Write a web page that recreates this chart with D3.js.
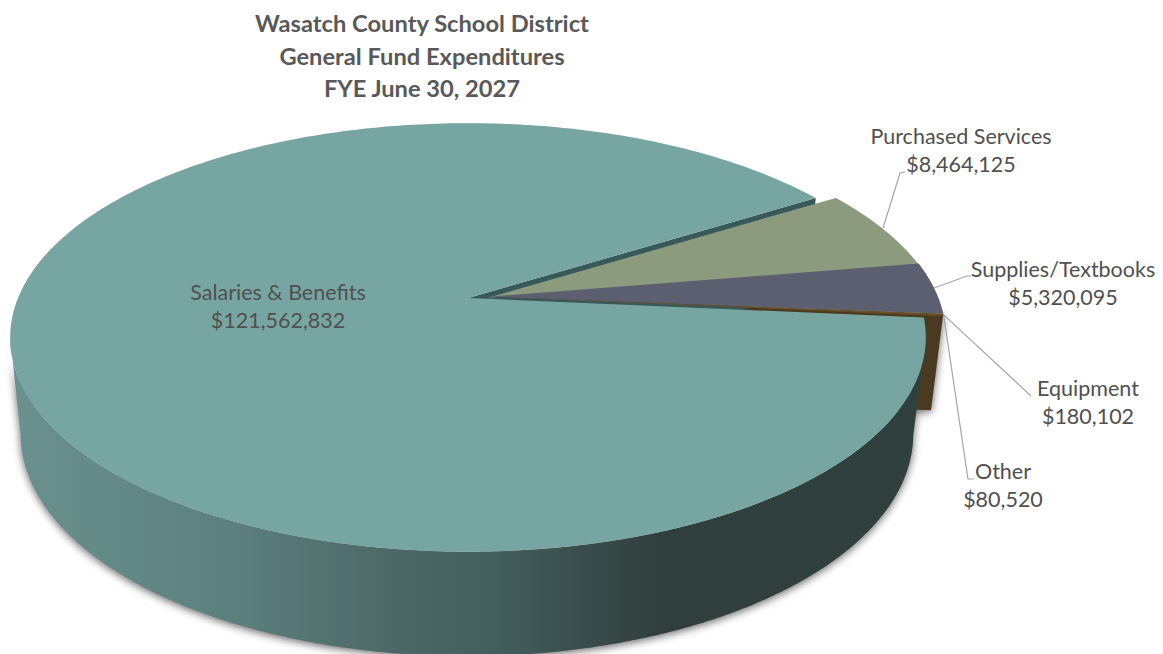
<!DOCTYPE html>
<html><head><meta charset="utf-8">
<script src="https://cdn.jsdelivr.net/npm/d3@7"></script>
<style>html,body{margin:0;background:#fff}svg{display:block}text{font-family:Lato,"Open Sans",sans-serif;fill:#505050}</style>
</head><body><svg id="c" width="1163" height="654"></svg>
<script>
const titleLines = ["Wasatch County School District","General Fund Expenditures","FYE June 30, 2027"];
const categories = ["Salaries & Benefits","Purchased Services","Supplies/Textbooks","Equipment","Other"];
const amounts = [121562832,8464125,5320095,180102,80520];
const amountLabels = ["$121,562,832","$8,464,125","$5,320,095","$180,102","$80,520"];
const colors = ["#77a5a2","#8c9b7e","#5c5f70","#6a5128","#6a5128"];

const rad = Math.PI/180;
const topP = {x0:468,y0:298,A:207,B:450,w:0.184};
const topX = {...topP,x0:488,y0:296.8};      // detached wedges
const topG = {...topP,x0:488,y0:297.8};      // green wedge sits a touch lower
const low  = {x0:467,y0:394,A:215,B:439,w:0.18};
const lowX = {...low,x0:487,y0:392.8};
function proj(p,a){const u=Math.sin(a),v=-Math.cos(a),d=1-p.w*v;return [p.x0+p.B*u/d,p.y0+p.A*v/d];}
const apex=p=>[p.x0,p.y0];
const line=d3.line().curve(d3.curveLinear);
const arcPts=(p,a0,a1)=>d3.range(0,361).map(i=>proj(p,a0+(a1-a0)*i/360));

const start=95.3*rad;
const slices=d3.pie().sort(null).startAngle(start).endAngle(start+2*Math.PI)(amounts);
const svg=d3.select("#c");
const defs=svg.append("defs");
const g=defs.append("linearGradient").attr("id","wall").attr("gradientUnits","userSpaceOnUse").attr("x1",18).attr("x2",920).attr("y1",0).attr("y2",0);
[[0,"#6a918e"],[0.246,"#5b7f7c"],[0.42,"#4c6766"],[0.53,"#445e5c"],[0.71,"#303f3e"],[1,"#2f403e"]].forEach(s=>g.append("stop").attr("offset",s[0]).attr("stop-color",s[1]));
defs.append("filter").attr("id","blur").attr("filterUnits","userSpaceOnUse").attr("x",-40).attr("y",100).attr("width",1100).attr("height",600).append("feGaussianBlur").attr("stdDeviation",4);

const main=slices[0];
const a4=slices[3].startAngle, mainEnd=main.endAngle;
const cutFace=line([apex(topX),proj(topX,a4),proj(lowX,a4),apex(lowX)])+"Z";
const sil=100.6*rad;   // angle of the widest point of the projected rim
const front=arcPts(topP,sil,2*Math.PI-sil), back=arcPts(low,2*Math.PI-sil,sil);
const wallPath=line(front.concat(back))+"Z";

// soft drop shadow below the solid
const shadow=svg.append("g").attr("filter","url(#blur)").attr("opacity",0.6).attr("transform","translate(0,2)");
shadow.append("path").attr("d",wallPath).attr("fill","#000");
shadow.append("path").attr("d",cutFace).attr("fill","#000");

// brown cut face of the detached wedges
svg.append("path").attr("d",cutFace).attr("fill","#4a3a22");

// cut wall of the main slice seen through the gap
svg.append("path").attr("d",line([apex(topP),proj(topP,mainEnd),proj(low,mainEnd),apex(low)])+"Z").attr("fill","#38595a");
// outer wall of main slice
svg.append("path").attr("d",wallPath).attr("fill","url(#wall)");

// top faces
slices.slice(1).forEach(s=>{
  const p=s.index===1?topG:topX;
  svg.append("path").datum(s).attr("d",line([apex(p)].concat(arcPts(p,s.startAngle,s.endAngle)))+"Z").attr("fill",colors[s.index]);
});
svg.append("path").datum(main).attr("d",line([apex(topP)].concat(arcPts(topP,main.startAngle,main.endAngle)))+"Z").attr("fill",colors[0]);

// leader lines
const rim=i=>{const s=slices[i];return proj(topX,(s.startAngle+s.endAngle)/2);};
const leaderEnds={1:[[900,173],[905,172]],2:[[967,276],[971,276]],3:[[1031,396]],4:[[968,479],[974,479]]};
[1,2,3,4].forEach(i=>svg.append("path").attr("d",line([rim(i)].concat(leaderEnds[i]))).attr("fill","none").attr("stroke","#a6a6a6").attr("stroke-width",1.2));

// labels
const labelPos=[[278,300],[961,144],[1063,277],[1088,396],[1003,479]];
categories.forEach((c,i)=>{
  const t=svg.append("text").attr("text-anchor","middle").attr("x",labelPos[i][0]).attr("y",labelPos[i][1]).style("font-size","21.5px");
  t.append("tspan").attr("x",labelPos[i][0]).text(c);
  t.append("tspan").attr("x",labelPos[i][0]).attr("dy",28).text(amountLabels[i]);
});
titleLines.forEach((l,i)=>svg.append("text").attr("text-anchor","middle").attr("x",422).attr("y",32+i*32.5).style("font-size","23.7px").style("font-weight",700).style("fill","#595959").text(l));
</script></body></html>
